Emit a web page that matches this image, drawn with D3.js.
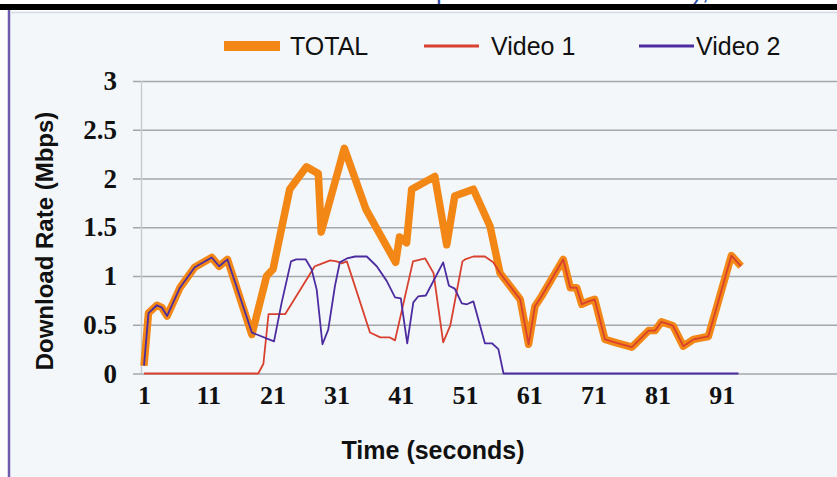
<!DOCTYPE html>
<html>
<head>
<meta charset="utf-8">
<script src="https://cdn.jsdelivr.net/npm/d3@7/dist/d3.min.js"></script>
<style>
  html, body { margin: 0; padding: 0; background: #ffffff; }
  svg { display: block; }
</style>
</head>
<body>
<svg id="chart" width="837" height="477"></svg>
<script>
// ---- data (time in seconds, rate in Mbps) ----
const seriesNames = ["TOTAL", "Video 1", "Video 2"];
const xTickValues = [1, 11, 21, 31, 41, 51, 61, 71, 81, 91];
const yTickValues = [0, 0.5, 1, 1.5, 2, 2.5, 3];

const totalData = [
  [1,0.08],[1.7,0.62],[3,0.70],[3.8,0.675],[4.6,0.59],[6.6,0.88],[8.9,1.09],[11.55,1.19],
  [12.7,1.10],[14,1.17],[17.8,0.40],[20.1,1.0],[21.1,1.07],[23.7,1.89],[26.3,2.12],
  [28.15,2.05],[28.6,1.45],[32.2,2.31],[35.6,1.68],[40.2,1.14],[40.8,1.40],[41.9,1.34],
  [42.7,1.89],[46.3,2.02],[48.15,1.32],[49.4,1.82],[52.3,1.89],[54.9,1.51],[56.45,1.03],
  [59.6,0.76],[60.9,0.30],[61.9,0.69],[62.9,0.79],[66.3,1.17],[67.4,0.88],[68.4,0.88],
  [69.2,0.71],[70.2,0.74],[71.2,0.76],[72.8,0.35],[74.6,0.315],[77,0.27],[79.6,0.44],
  [80.6,0.44],[81.6,0.53],[83.4,0.49],[85,0.28],[86.6,0.35],[88.9,0.38],[92.5,1.21],[94,1.10]
];

const video1Data = [
  [1,0],[18.8,0],[19.6,0.10],[20.4,0.61],[23,0.61],[27.6,1.10],[28.4,1.12],[30,1.16],
  [31,1.15],[31.8,1.13],[32.6,1.15],[36.2,0.42],[37.8,0.37],[39.3,0.37],[40.1,0.34],
  [42.9,1.15],[44.8,1.18],[46.1,1.03],[47.6,0.32],[48.7,0.49],[50.6,1.15],[51,1.17],
  [52.3,1.20],[54.1,1.20],[55.4,1.14],[56.45,1.03],[59.6,0.76],[60.9,0.30],[61.9,0.69],
  [62.9,0.79],[66.3,1.17],[67.4,0.88],[68.4,0.88],[69.2,0.71],[70.2,0.74],[71.2,0.76],
  [72.8,0.35],[74.6,0.315],[77,0.27],[79.6,0.44],[80.6,0.44],[81.6,0.53],[83.4,0.49],
  [85,0.28],[86.6,0.35],[88.9,0.38],[92.5,1.21],[94,1.10]
];

const video2Data = [
  [1,0.08],[1.7,0.62],[3,0.70],[3.8,0.675],[4.6,0.59],[6.6,0.88],[8.9,1.09],[11.55,1.19],
  [12.7,1.10],[14,1.17],[17.8,0.42],[21.25,0.33],[22.45,0.73],[23.9,1.15],[24.7,1.17],
  [26.2,1.17],[27.1,1.07],[27.9,0.86],[28.8,0.30],[29.7,0.45],[30.75,0.90],[31.5,1.14],
  [32.6,1.18],[33.9,1.20],[35.7,1.20],[37.25,1.10],[38.8,0.95],[40.1,0.78],[41,0.77],
  [42,0.31],[42.95,0.73],[43.7,0.79],[44.9,0.80],[47.6,1.14],[48.5,0.90],[49.4,0.87],
  [50.5,0.72],[51.3,0.71],[52.3,0.74],[54.1,0.31],[55.2,0.31],[56.2,0.25],[57,0],[93.6,0]
];

const colors = { total: "#F28716", video1: "#D8412F", video2: "#4C2CA0" };

// ---- drawing ----
const W = 837, H = 477;
const svg = d3.select("#chart");

// panel background and frame
svg.append("rect").attr("x", 8).attr("y", 11).attr("width", W - 8).attr("height", H - 11)
  .attr("fill", "#f3f7fa");
svg.append("line").attr("x1", 9).attr("x2", 9).attr("y1", 10).attr("y2", H)
  .attr("stroke", "#6f5cb0").attr("stroke-width", 2.5);
svg.append("line").attr("x1", 10).attr("x2", W).attr("y1", 12.5).attr("y2", 12.5)
  .attr("stroke", "#d5dce6").attr("stroke-width", 1.5);
svg.append("rect").attr("x", 0).attr("y", 4).attr("width", W).attr("height", 6)
  .attr("fill", "#000000");

// cut-off title fragments at the top (title lies above the visible area)
svg.append("text").attr("x", 436).attr("y", -1).attr("fill", "#2b4ea8")
  .attr("font-family", "Liberation Sans, Arial, sans-serif").attr("font-size", 26).text("p");
svg.append("text").attr("x", 693).attr("y", -1).attr("fill", "#2b4ea8")
  .attr("font-family", "Liberation Sans, Arial, sans-serif").attr("font-size", 26).text("),");

const x = d3.scaleLinear().domain([1, 94]).range([144, 144 + 93 * 6.42]);
const y = d3.scaleLinear().domain([0, 3]).range([373.5, 81]);

// y grid + labels
const gridLeft = 133;
const yAxis = d3.axisLeft(y).tickValues(yTickValues)
  .tickSize(-(W - gridLeft)).tickPadding(16)
  .tickFormat(d => String(d));
const gy = svg.append("g").attr("transform", `translate(${gridLeft},0)`).call(yAxis);
gy.select(".domain").remove();
gy.selectAll(".tick line").attr("stroke", "#a3a6aa").attr("stroke-width", 1.5);
gy.selectAll(".tick text")
  .attr("font-family", "Liberation Serif, Times New Roman, serif")
  .attr("font-weight", "bold").attr("font-size", 27).attr("fill", "#111");

// y axis vertical line
svg.append("line").attr("x1", 141.5).attr("x2", 141.5).attr("y1", y(3)).attr("y2", y(0))
  .attr("stroke", "#c9cdd2").attr("stroke-width", 1.5);

// x labels
const xAxis = d3.axisBottom(x).tickValues(xTickValues).tickSize(0).tickPadding(12)
  .tickFormat(d => String(d));
const gx = svg.append("g").attr("transform", `translate(0,${y(0)})`).call(xAxis);
gx.select(".domain").remove();
gx.selectAll(".tick text")
  .attr("font-family", "Liberation Serif, Times New Roman, serif")
  .attr("font-weight", "bold").attr("font-size", 26).attr("fill", "#111");

// lines
const line = d3.line().x(d => x(d[0])).y(d => y(d[1]));
svg.append("path").datum(totalData).attr("d", line).attr("fill", "none")
  .attr("stroke", colors.total).attr("stroke-width", 7.5).attr("stroke-linejoin", "round");
svg.append("path").datum(video1Data).attr("d", line).attr("fill", "none")
  .attr("stroke", colors.video1).attr("stroke-width", 1.8).attr("stroke-linejoin", "round");
svg.append("path").datum(video2Data).attr("d", line).attr("fill", "none")
  .attr("stroke", colors.video2).attr("stroke-width", 1.8).attr("stroke-linejoin", "round");

// axis titles
svg.append("text").attr("transform", "translate(53,241) rotate(-90)")
  .attr("text-anchor", "middle").attr("font-family", "Liberation Sans, Arial, sans-serif")
  .attr("font-weight", "bold").attr("font-size", 24).attr("fill", "#111")
  .text("Download Rate (Mbps)");
svg.append("text").attr("x", 433).attr("y", 459)
  .attr("text-anchor", "middle").attr("font-family", "Liberation Sans, Arial, sans-serif")
  .attr("font-weight", "bold").attr("font-size", 25).attr("fill", "#111")
  .text("Time (seconds)");

// legend
const legend = svg.append("g").attr("font-family", "Liberation Sans, Arial, sans-serif")
  .attr("font-size", 25).attr("fill", "#111");
legend.append("rect").attr("x", 224).attr("y", 41).attr("width", 56).attr("height", 10)
  .attr("fill", colors.total);
legend.append("text").attr("x", 290).attr("y", 55).text(seriesNames[0]);
legend.append("line").attr("x1", 424).attr("x2", 479).attr("y1", 46).attr("y2", 46)
  .attr("stroke", colors.video1).attr("stroke-width", 3);
legend.append("text").attr("x", 491).attr("y", 55).text(seriesNames[1]);
legend.append("line").attr("x1", 639).attr("x2", 694).attr("y1", 46).attr("y2", 46)
  .attr("stroke", colors.video2).attr("stroke-width", 3);
legend.append("text").attr("x", 696).attr("y", 55).text(seriesNames[2]);
</script>
</body>
</html>
